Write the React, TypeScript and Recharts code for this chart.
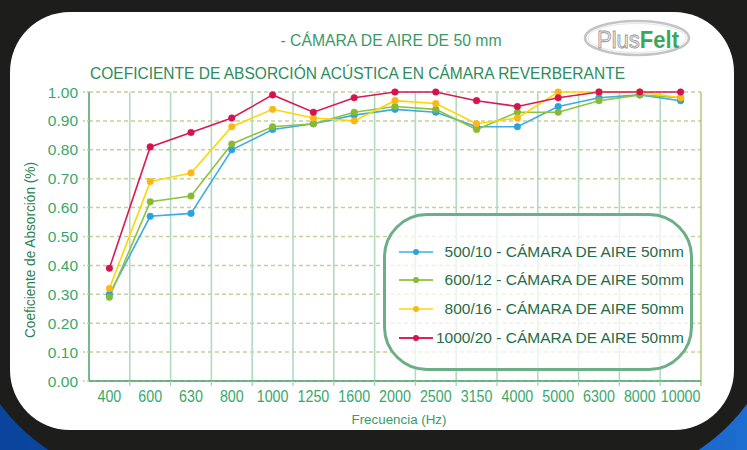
import React from 'react';
import { LineChart, Line, XAxis, YAxis, CartesianGrid, ReferenceLine, Legend } from 'recharts';

const categories = ['400', '600', '630', '800', '1000', '1250', '1600', '2000', '2500', '3150', '4000', '5000', '6300', '8000', '10000'];
const series500 = [0.30, 0.57, 0.58, 0.80, 0.87, 0.89, 0.92, 0.94, 0.93, 0.88, 0.88, 0.95, 0.98, 0.99, 0.97];
const series600 = [0.29, 0.62, 0.64, 0.82, 0.88, 0.89, 0.93, 0.95, 0.94, 0.87, 0.93, 0.93, 0.97, 0.99, 0.98];
const series800 = [0.32, 0.69, 0.72, 0.88, 0.94, 0.91, 0.90, 0.97, 0.96, 0.89, 0.91, 1.00, 1.00, 1.00, 0.98];
const series1000 = [0.39, 0.81, 0.86, 0.91, 0.99, 0.93, 0.98, 1.00, 1.00, 0.97, 0.95, 0.98, 1.00, 1.00, 1.00];
const seriesNames = [
  '500/10 - CÁMARA DE AIRE 50mm',
  '600/12 - CÁMARA DE AIRE 50mm',
  '800/16 - CÁMARA DE AIRE 50mm',
  '1000/20 - CÁMARA DE AIRE 50mm',
];
const yTicks = [0, 0.1, 0.2, 0.3, 0.4, 0.5, 0.6, 0.7, 0.8, 0.9, 1.0];
const xBoundaries = [1, 2, 3, 4, 5, 6, 7, 8, 9, 10, 11, 12, 13, 14];
const xTicks = Array.from({ length: 31 }, (_, i) => i / 2);

const titleText = '- CÁMARA DE AIRE DE 50 mm';
const chartTitle = 'COEFICIENTE DE ABSORCIÓN ACÚSTICA EN CÁMARA REVERBERANTE';
const yLabel = 'Coeficiente de Absorción (%)';
const xLabel = 'Frecuencia (Hz)';

const SERIES = [
  { key: 's500', name: seriesNames[0], stroke: '#3eabe2', dot: '#2ba2de', legend: '#6cc3ec' },
  { key: 's600', name: seriesNames[1], stroke: '#8fc33f', dot: '#86b934', legend: '#9fc952' },
  { key: 's800', name: seriesNames[2], stroke: '#ffd600', dot: '#fbb617', legend: '#ffe04a' },
  { key: 's1000', name: seriesNames[3], stroke: '#d81a56', dot: '#d3144f', legend: '#e0205a' },
];

const data = categories.map((c, i) => ({
  x: i + 0.5,
  label: c,
  s500: series500[i],
  s600: series600[i],
  s800: series800[i],
  s1000: series1000[i],
}));

const FONT = "'Liberation Sans', Arial, Helvetica, sans-serif";

function XTick(props: any) {
  const { x, y, payload } = props;
  const v = payload.value;
  if (Number.isInteger(v)) {
    if (v === 0) return <g />;
    return (
      <line x1={x} x2={x} y1={y} y2={y + 5} stroke={v === 15 ? '#a9c266' : '#a6d5b7'} strokeWidth={1.3} />
    );
  }
  const label = categories[Math.floor(v)];
  return (
    <text
      transform={`translate(${x},${y + 21}) scale(0.84,1)`}
      textAnchor="middle"
      fontSize={17}
      fill="#38a86a"
      fontFamily={FONT}
    >
      {label}
    </text>
  );
}

function LegendBox(props: any) {
  const payload = props.payload || [];
  const ordered = SERIES.map((s) => ({
    s,
    p: payload.find((q: any) => q.dataKey === s.key || q.value === s.name),
  })).filter((o) => o.p);
  return (
    <div
      style={{
        position: 'relative',
        width: 310,
        height: 158,
        boxSizing: 'border-box',
        border: '3px solid #6cae86',
        borderRadius: 44,
        background: 'rgba(255,255,255,0.72)',
      }}
    >
      {ordered.map(({ s, p }: any, i: number) => {
        const top = 35.7 + i * 28.7 - 10;
        return (
          <div key={s.key} style={{ position: 'absolute', left: 0, right: 0, top, height: 20 }}>
            <svg width={34} height={20} style={{ position: 'absolute', left: 13, top: 0 }}>
              <line x1={0} x2={34} y1={10} y2={10} stroke={s.legend} strokeWidth={2} />
              <circle cx={17} cy={10} r={3} fill={s.dot} />
            </svg>
            <div
              style={{
                position: 'absolute',
                right: 6,
                top: 0,
                lineHeight: '20px',
                fontSize: 15.5,
                fontFamily: FONT,
                color: '#1f6d47',
                whiteSpace: 'nowrap',
              }}
            >
              {p.value}
            </div>
          </div>
        );
      })}
    </div>
  );
}

export default function App() {
  return (
    <div
      style={{
        position: 'absolute',
        left: 0,
        top: 0,
        width: 747,
        height: 450,
        overflow: 'hidden',
        background: 'linear-gradient(90deg, #0a449c 0%, #0f54b0 50%, #1d6cd0 100%)',
      }}
    >
      <div
        style={{
          position: 'absolute',
          left: -36,
          top: -60,
          width: 819,
          height: 540,
          background: '#1d1d1b',
          borderRadius: '0 0 186px 186px',
        }}
      />
      <div
        style={{
          position: 'absolute',
          left: 10,
          top: 12,
          width: 724,
          height: 418,
          background: '#ffffff',
          borderRadius: 60,
        }}
      />
      <svg width={747} height={450} style={{ position: 'absolute', left: 0, top: 0 }}>
        <text
          x={391}
          y={46}
          textAnchor="middle"
          fontSize={16}
          fill="#3a9a69"
          fontFamily={FONT}
          textLength={221}
          lengthAdjust="spacingAndGlyphs"
        >
          {titleText}
        </text>
        <text
          x={90}
          y={79}
          fontSize={17}
          fill="#2b8c5c"
          fontFamily={FONT}
          textLength={535}
          lengthAdjust="spacingAndGlyphs"
        >
          {chartTitle}
        </text>
        <text
          transform="translate(35,250) rotate(-90)"
          textAnchor="middle"
          fontSize={15.5}
          fill="#2b7f51"
          fontFamily={FONT}
          textLength={176}
          lengthAdjust="spacingAndGlyphs"
        >
          {yLabel}
        </text>
        <text
          x={399}
          y={424}
          textAnchor="middle"
          fontSize={13.5}
          fill="#3a9a68"
          fontFamily={FONT}
          textLength={95}
          lengthAdjust="spacingAndGlyphs"
        >
          {xLabel}
        </text>
        <ellipse cx={637} cy={38} rx={52} ry={17} fill="#ffffff" stroke="#c4c4c4" strokeWidth={2.5} />
        <ellipse cx={637} cy={38} rx={49} ry={14.5} fill="none" stroke="#e6e6e6" strokeWidth={1} />
        <text
          x={597}
          y={48}
          fontSize={24}
          fontFamily={FONT}
          textLength={82}
          lengthAdjust="spacingAndGlyphs"
        >
          <tspan fill="#f2f2f2" stroke="#9c9c9c" strokeWidth={0.9}>Plus</tspan>
          <tspan fill="#3aa75a" fontWeight="bold">Felt</tspan>
        </text>
      </svg>
      <div style={{ position: 'absolute', left: 0, top: 0 }}>
        <LineChart width={747} height={450} data={data} margin={{ top: 92, right: 46, bottom: 39, left: 29 }}>
          <CartesianGrid vertical={false} stroke="#c3d19b" strokeDasharray="4 3" strokeWidth={1.5} />
          {xBoundaries.map((b) => (
            <ReferenceLine key={b} x={b} stroke="#b3dac1" strokeWidth={1.6} />
          ))}
          <ReferenceLine x={15} stroke="#a9c266" strokeWidth={1.3} />
          <XAxis
            type="number"
            dataKey="x"
            domain={[0, 15]}
            ticks={xTicks}
            interval={0}
            height={30}
            tickSize={0}
            tickMargin={0}
            tickLine={false}
            tick={<XTick />}
            axisLine={{ stroke: '#45a36b', strokeWidth: 1.5 }}
          />
          <YAxis
            type="number"
            domain={[0, 1]}
            ticks={yTicks}
            interval={0}
            width={60}
            tickSize={6}
            tickMargin={5}
            tickFormatter={(v: number) => v.toFixed(2)}
            tick={{ fill: '#38a86a', fontSize: 15.5, fontFamily: FONT }}
            tickLine={{ stroke: '#c3d19b', strokeDasharray: '2 2', strokeWidth: 1.5 }}
            axisLine={{ stroke: '#45a36b', strokeWidth: 1.5 }}
          />
          {SERIES.map((s) => (
            <Line
              key={s.key}
              type="linear"
              dataKey={s.key}
              name={s.name}
              stroke={s.stroke}
              strokeWidth={1.6}
              dot={{ r: 3.3, fill: s.dot, stroke: s.dot, strokeWidth: 0.5 }}
              activeDot={false}
              isAnimationActive={false}
            />
          ))}
          <Legend
            layout="vertical"
            align="center"
            verticalAlign="middle"
            itemSorter={null as any}
            content={<LegendBox />}
            wrapperStyle={{ left: 383, top: 213, width: 310, height: 158 }}
          />
        </LineChart>
      </div>
    </div>
  );
}
